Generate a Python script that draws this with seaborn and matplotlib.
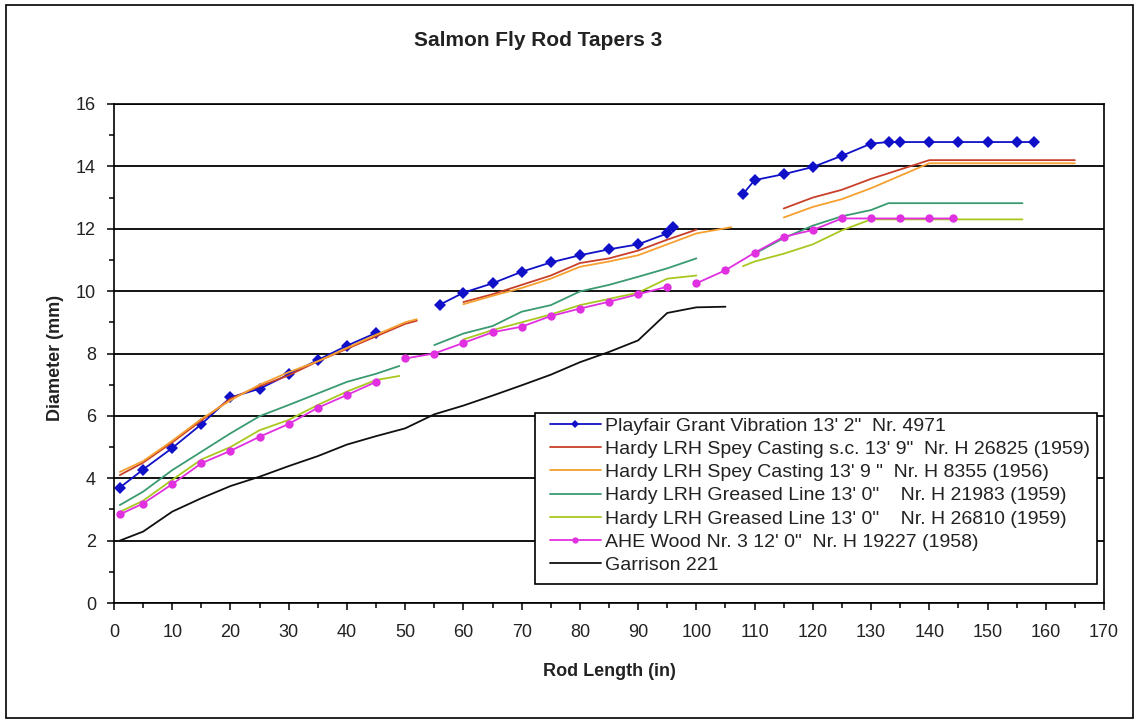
import numpy as np
import pandas as pd
import matplotlib
matplotlib.use("Agg")
import matplotlib.pyplot as plt
from matplotlib.patches import Rectangle
from matplotlib.lines import Line2D
from matplotlib.ticker import MultipleLocator
from matplotlib.font_manager import FontProperties
import seaborn as sns

# Rod tapers: station (in) vs diameter (mm); None separates rod sections
labels = [
    "Playfair Grant Vibration 13' 2\"  Nr. 4971",
    "Hardy LRH Spey Casting s.c. 13' 9\"  Nr. H 26825 (1959)",
    "Hardy LRH Spey Casting 13' 9 \"  Nr. H 8355 (1956)",
    "Hardy LRH Greased Line 13' 0\"    Nr. H 21983 (1959)",
    "Hardy LRH Greased Line 13' 0\"    Nr. H 26810 (1959)",
    "AHE Wood Nr. 3 12' 0\"  Nr. H 19227 (1958)",
    "Garrison 221",
]

playfair_x = [1, 5, 10, 15, 20, 25, 30, 35, 40, 45, None,
              56, 60, 65, 70, 75, 80, 85, 90, 95, 96, None,
              108, 110, 115, 120, 125, 130, 133, 135, 140, 145, 150, 155, 158]
playfair_y = [3.70, 4.28, 4.97, 5.73, 6.59, 6.87, 7.33, 7.79, 8.25, 8.66, None,
              9.57, 9.95, 10.25, 10.62, 10.92, 11.15, 11.34, 11.50, 11.85, 12.06, None,
              13.11, 13.56, 13.75, 13.98, 14.34, 14.73, 14.78, 14.78, 14.78, 14.78, 14.78, 14.78, 14.78]

h26825_x = [1, 5, 10, 15, 20, 25, 30, 35, 40, 45, 50, 52, None,
            60, 65, 70, 75, 80, 85, 90, 95, 100, None,
            115, 120, 125, 130, 135, 140, 165]
h26825_y = [4.10, 4.50, 5.15, 5.85, 6.55, 6.95, 7.30, 7.75, 8.15, 8.55, 8.95, 9.05, None,
            9.65, 9.90, 10.20, 10.50, 10.90, 11.05, 11.30, 11.65, 11.97, None,
            12.65, 13.00, 13.25, 13.60, 13.90, 14.20, 14.20]

h8355_x = [1, 5, 10, 15, 20, 25, 30, 35, 40, 45, 50, 52, None,
           60, 65, 70, 75, 80, 85, 90, 95, 100, 106, None,
           115, 120, 125, 130, 135, 140, 165]
h8355_y = [4.20, 4.55, 5.20, 5.90, 6.50, 7.00, 7.40, 7.75, 8.18, 8.60, 9.00, 9.10, None,
           9.58, 9.85, 10.10, 10.40, 10.78, 10.95, 11.15, 11.50, 11.85, 12.05, None,
           12.36, 12.70, 12.95, 13.30, 13.70, 14.10, 14.10]

h21983_x = [1, 5, 10, 15, 20, 25, 30, 35, 40, 45, 49, None,
            55, 60, 65, 70, 75, 80, 85, 90, 95, 100, None,
            110, 115, 120, 125, 130, 133, 156]
h21983_y = [3.14, 3.57, 4.26, 4.85, 5.44, 5.99, 6.35, 6.72, 7.09, 7.35, 7.60, None,
            8.27, 8.64, 8.88, 9.34, 9.55, 9.99, 10.20, 10.46, 10.73, 11.05, None,
            11.20, 11.70, 12.10, 12.40, 12.60, 12.82, 12.82]

h26810_x = [1, 5, 10, 15, 20, 25, 30, 35, 40, 45, 49, None,
            60, 65, 70, 75, 80, 85, 90, 95, 100, None,
            108, 110, 115, 120, 125, 130, 156]
h26810_y = [2.92, 3.28, 3.95, 4.60, 5.00, 5.54, 5.87, 6.35, 6.78, 7.15, 7.28, None,
            8.45, 8.75, 9.00, 9.25, 9.55, 9.75, 9.95, 10.40, 10.50, None,
            10.80, 10.95, 11.20, 11.50, 11.95, 12.30, 12.30]

wood_x = [1, 5, 10, 15, 20, 25, 30, 35, 40, 45, None,
          50, 55, 60, 65, 70, 75, 80, 85, 90, 95, None,
          100, 105, 110, 115, 120, 125, 130, 135, 140, 144]
wood_y = [2.84, 3.19, 3.81, 4.48, 4.88, 5.33, 5.74, 6.26, 6.67, 7.09, None,
          7.84, 8.00, 8.34, 8.68, 8.86, 9.20, 9.44, 9.66, 9.90, 10.14, None,
          10.25, 10.67, 11.23, 11.74, 11.96, 12.33, 12.33, 12.33, 12.33, 12.33]

garrison_x = [1, 5, 10, 15, 20, 25, 30, 35, 40, 45, 50, 55, 60, 65, 70, 75,
              80, 85, 90, 95, 100, 105]
garrison_y = [2.00, 2.29, 2.93, 3.36, 3.75, 4.05, 4.39, 4.71, 5.08, 5.35, 5.60, 6.05,
              6.33, 6.65, 6.98, 7.32, 7.72, 8.05, 8.42, 9.30, 9.48, 9.50]

xs = [playfair_x, h26825_x, h8355_x, h21983_x, h26810_x, wood_x, garrison_x]
ys = [playfair_y, h26825_y, h8355_y, h21983_y, h26810_y, wood_y, garrison_y]

colors = ["#1010C8", "#C8402A", "#F5A030", "#3A9A70", "#A8C820", "#E030E0", "#101010"]
markers = ["D", None, None, None, None, "o", None]
msizes = [6, 0, 0, 0, 0, 6, 0]

x_ticks = list(range(0, 171, 10))
y_ticks = list(range(0, 17, 2))

# long table with a section id so that gaps between sections stay open
rows = []
for name, xv, yv in zip(labels, xs, ys):
    seg = 0
    for a, b in zip(xv, yv):
        if a is None:
            seg += 1
            continue
        rows.append((name, seg, a, b))
df = pd.DataFrame(rows, columns=["rod", "section", "x", "y"])

sns.set_theme(style="ticks")
plt.rcParams["font.family"] = ["Liberation Sans", "DejaVu Sans"]

W, H = 1139, 723
fig = plt.figure(figsize=(W / 100, H / 100), dpi=100)
ax = fig.add_axes([114 / W, 1 - 603 / H, (1104 - 114) / W, (603 - 104) / H])

for name, c, m, ms in zip(labels, colors, markers, msizes):
    sub = df[df["rod"] == name]
    for sec, part in sub.groupby("section"):
        kw = dict(marker=m, markersize=ms, markeredgewidth=0) if m else {}
        sns.lineplot(data=part, x="x", y="y", ax=ax, color=c, linewidth=1.3,
                     estimator=None, sort=False, legend=False, **kw)

ax.set_xlim(0, 170)
ax.set_ylim(0, 16)
ax.set_xticks(x_ticks)
ax.set_yticks(y_ticks)
ax.xaxis.set_minor_locator(MultipleLocator(5))
ax.yaxis.set_minor_locator(MultipleLocator(1))
ax.tick_params(axis="both", which="major", direction="out", length=5, width=1.1,
               color="black", labelsize=13, labelcolor="#222222")
ax.tick_params(axis="both", which="minor", direction="out", length=3.5, width=1.1,
               color="black")
ax.tick_params(axis="x", which="major", pad=10)
ax.tick_params(axis="y", which="major", pad=8)
ax.set_xlabel("")
ax.set_ylabel("")
ax.grid(axis="y", which="major", color="black", linewidth=1.3)
ax.set_axisbelow(True)
for s in ax.spines.values():
    s.set_visible(True)
    s.set_color("black")
    s.set_linewidth(1.2)

# legend box drawn as its own frame, entries placed inside it
fig.patches.append(Rectangle((535 / W, 1 - 584 / H), (1097 - 535) / W, (584 - 413) / H,
                             transform=fig.transFigure, facecolor="white",
                             edgecolor="black", linewidth=1.2, zorder=4))
handles = [Line2D([], [], color=c, linewidth=1.3, marker=m if m else None,
                  markersize=4.5, markeredgewidth=0)
           for c, m in zip(colors, markers)]
leg = fig.legend(handles, labels, loc="upper left",
                 bbox_to_anchor=(550 / W, 1 - 417 / H),
                 frameon=False, borderaxespad=0, borderpad=0,
                 labelspacing=0.29, handlelength=2.6, handletextpad=0.25,
                 prop=FontProperties(family=["Liberation Sans"], size=14))
leg.set_zorder(5)
for t in leg.get_texts():
    t.set_color("#222222")

fig.text(538 / W, 1 - 40 / H, "Salmon Fly Rod Tapers 3", ha="center", va="center",
         fontsize=15, fontweight="bold", color="#222222")
fig.text(55 / W, 1 - 358 / H, "Diameter (mm)", ha="center", va="center",
         rotation=90, fontsize=13, fontweight="bold", color="#222222")
fig.text(609 / W, 1 - 672 / H, "Rod Length (in)", ha="center", va="center",
         fontsize=13, fontweight="bold", color="#222222")

fig.patches.append(Rectangle((6 / W, 1 - 718 / H), (1133 - 6) / W, (718 - 5) / H,
                             transform=fig.transFigure, fill=False,
                             edgecolor="black", linewidth=1.2))

fig.savefig("out.png", dpi=100, facecolor="white")
